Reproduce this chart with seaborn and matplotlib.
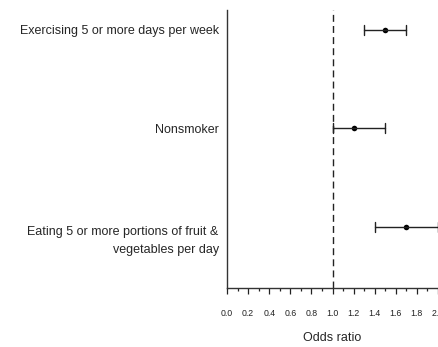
import numpy as np
import pandas as pd
import matplotlib
matplotlib.use("Agg")
import matplotlib.pyplot as plt
from matplotlib.ticker import MultipleLocator
from matplotlib.transforms import ScaledTranslation
import seaborn as sns

# Odds ratios with 95% confidence limits
categories = [
    "Exercising 5 or more days per week",
    "Nonsmoker",
    "Eating 5 or more portions of fruit &\nvegetables per day",
]
odds_ratio = [1.5, 1.2, 1.7]
ci_low = [1.3, 1.0, 1.4]
ci_high = [1.7, 1.5, 2.0]
x_ticks = [0.0, 0.2, 0.4, 0.6, 0.8, 1.0, 1.2, 1.4, 1.6, 1.8, 2.0]

sns.set_style("ticks")
plt.rcParams["font.family"] = ["Liberation Sans", "DejaVu Sans"]

# Long-form table: each category carries its lower limit, estimate and upper limit
rows = []
for c, lo, est, hi in zip(categories, ci_low, odds_ratio, ci_high):
    for v in (lo, est, hi):
        rows.append({"measure": c, "value": v})
df = pd.DataFrame(rows)

fig = plt.figure(figsize=(4.39, 3.47), dpi=100)
ax = fig.add_axes([227 / 439, 59 / 347, 211 / 439, 278 / 347])

sns.pointplot(
    data=df, x="value", y="measure", order=categories,
    estimator="median", errorbar=lambda v: (v.min(), v.max()),
    color="black", linestyle="none", markers="o",
    markersize=4.0, markeredgewidth=0,
    capsize=0.1, err_kws={"linewidth": 1.0, "color": "#222222"}, ax=ax,
)

ax.axvline(1.0, color="#222222", linestyle=(0, (5, 3)), linewidth=1.0, zorder=0)

ax.set_xlim(0, 2.0)
ax.set_ylim(2.62, -0.2)
ax.set_xticks(x_ticks)
ax.set_xticklabels([f"{t:.1f}" for t in x_ticks], fontsize=6.3)
ax.xaxis.set_minor_locator(MultipleLocator(0.1))
ax.tick_params(axis="x", which="major", length=4.3, width=0.9, pad=11, color="#222222",
               labelcolor="#222222")
ax.tick_params(axis="x", which="minor", length=2.2, width=0.9, color="#222222")
ax.tick_params(axis="y", length=0, pad=6, labelsize=9)
ax.set_xlabel("Odds ratio", fontsize=9, labelpad=10)
ax.set_ylabel("")

for s in ("top", "right"):
    ax.spines[s].set_visible(False)
for s in ("left", "bottom"):
    ax.spines[s].set_color("#333333")
    ax.spines[s].set_linewidth(1.0)

# Two-line label: first line sits level with its estimate
for lbl in ax.get_yticklabels():
    lbl.set_horizontalalignment("right")
    lbl.set_multialignment("right")
    if "\n" in lbl.get_text():
        lbl.set_linespacing(1.6)
        lbl.set_transform(lbl.get_transform()
                          + ScaledTranslation(0, -10 / 100, fig.dpi_scale_trans))

fig.savefig("out.png", dpi=100)
